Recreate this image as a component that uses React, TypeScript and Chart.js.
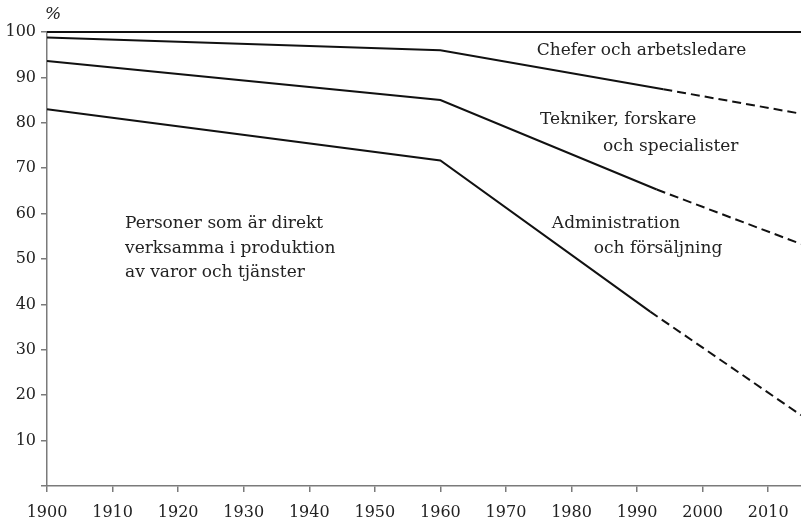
import React, { useEffect, useRef } from "react";
import { Chart, registerables } from "chart.js";

Chart.register(...registerables);

// Data (year, percent)
const totalYears = [1900, 2015];
const totalValues = [100, 100];

const chefYears = [1900, 1960, 1994, 2015];
const chefValues = [98.8, 96, 87.4, 82];

const teknYears = [1900, 1960, 1993, 2015];
const teknValues = [93.6, 85, 65.3, 53.3];

const adminYears = [1900, 1960, 1992, 2015];
const adminValues = [83, 71.7, 38.4, 15.6];

// number of solid segments before the dashed projection
const solidSegments = 2;

const xTicks = [1900, 1910, 1920, 1930, 1940, 1950, 1960, 1970, 1980, 1990, 2000, 2010];
const yTicks = [0, 10, 20, 30, 40, 50, 60, 70, 80, 90, 100];

const FONT = "'DejaVu Serif', serif";
const TEXT = "#222";
const AXIS = "#7a7a7a";

const toPts = (xs: number[], ys: number[]) => xs.map((x, i) => ({ x, y: ys[i] }));

const labelPlugin = {
  id: "labels",
  afterDraw(chart: any) {
    const { ctx, scales } = chart;
    const xs = scales.x;
    const ys = scales.y;
    const items: [string, number, number][] = [
      ["Chefer och arbetsledare", 1974.7, 96],
      ["Tekniker, forskare", 1975.2, 80.6],
      ["och specialister", 1984.8, 74.7],
      ["Administration", 1977, 57.7],
      ["och försäljning", 1983.4, 52.4],
      ["Personer som är direkt", 1911.9, 57.9],
      ["verksamma i produktion", 1911.9, 52.4],
      ["av varor och tjänster", 1911.9, 47.1],
    ];
    ctx.save();
    ctx.fillStyle = TEXT;
    ctx.font = `17px ${FONT}`;
    ctx.textAlign = "left";
    ctx.textBaseline = "middle";
    for (const [t, x, y] of items) {
      ctx.fillText(t, xs.getPixelForValue(x), ys.getPixelForValue(y));
    }
    ctx.font = `italic 17px ${FONT}`;
    ctx.fillText("%", chart.chartArea.left - 2, chart.chartArea.top - 17);
    ctx.restore();
  },
};

export default function App() {
  const ref = useRef<HTMLCanvasElement | null>(null);
  useEffect(() => {
    if (!ref.current) return;
    const dash = (ctx: any) => (ctx.p0DataIndex >= solidSegments ? [9, 5] : undefined);
    const common = {
      borderColor: "#111",
      borderWidth: 2,
      pointRadius: 0,
      fill: false,
      tension: 0,
      clip: false as any,
    };
    const chart = new Chart(ref.current, {
      type: "line",
      data: {
        datasets: [
          { ...common, label: "Total", data: toPts(totalYears, totalValues) },
          { ...common, label: "Chefer", data: toPts(chefYears, chefValues), segment: { borderDash: dash } },
          { ...common, label: "Tekniker", data: toPts(teknYears, teknValues), segment: { borderDash: dash } },
          { ...common, label: "Administration", data: toPts(adminYears, adminValues), segment: { borderDash: dash } },
        ],
      },
      options: {
        responsive: false,
        animation: false,
        layout: { padding: { top: 32, right: 0, left: 0, bottom: 0 } },
        plugins: { legend: { display: false }, tooltip: { enabled: false } },
        scales: {
          x: {
            type: "linear",
            min: 1900,
            max: 2015,
            afterBuildTicks: (s: any) => {
              s.ticks = xTicks.map((v) => ({ value: v }));
            },
            afterFit: (s: any) => {
              s.height = 39;
            },
            ticks: {
              includeBounds: false,
              color: TEXT,
              font: { family: FONT, size: 16 },
              padding: 11,
              maxRotation: 0,
              callback: (v: any) => String(v),
            },
            grid: { drawOnChartArea: false, color: AXIS, tickLength: 6, lineWidth: 1.5 },
            border: { color: AXIS, width: 1.5 },
          },
          y: {
            type: "linear",
            min: 0,
            max: 100,
            afterBuildTicks: (s: any) => {
              s.ticks = yTicks.map((v) => ({ value: v }));
            },
            afterFit: (s: any) => {
              s.width = 47;
            },
            ticks: {
              color: TEXT,
              font: { family: FONT, size: 16 },
              padding: 5,
              callback: (v: any) => (v === 0 ? "" : String(v)),
            },
            grid: { drawOnChartArea: false, color: AXIS, tickLength: 6, lineWidth: 1.5 },
            border: { color: AXIS, width: 1.5 },
          },
        },
      },
      plugins: [labelPlugin],
    });
    return () => chart.destroy();
  }, []);
  return (
    <div style={{ position: "absolute", left: 0, top: 0, width: 801, height: 525, background: "#fff" }}>
      <canvas ref={ref} width={801} height={525} style={{ display: "block" }} />
    </div>
  );
}
